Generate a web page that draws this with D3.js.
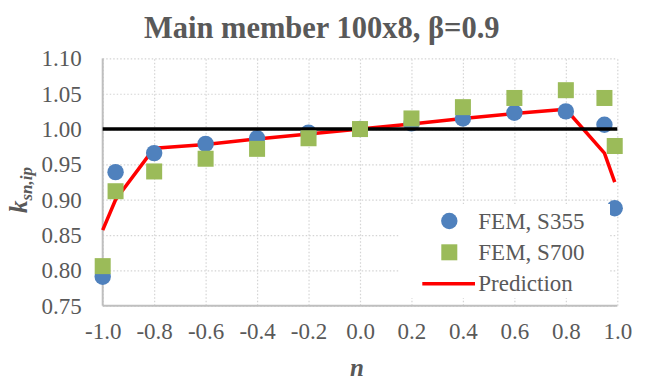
<!DOCTYPE html>
<html>
<head>
<meta charset="utf-8">
<script src="https://cdn.jsdelivr.net/npm/d3@7/dist/d3.min.js"></script>
<style>
  html, body { margin: 0; padding: 0; background: #fff; }
  svg { display: block; }
</style>
</head>
<body>
<svg id="chart" width="646" height="383"></svg>
<script>
// Axial load ratio n
const nS355 = [-1.0, -0.95, -0.8, -0.6, -0.4, -0.2, 0.0, 0.2, 0.4, 0.6, 0.8, 0.95, 0.99];
const kS355 = [0.791, 0.939, 0.966, 0.979, 0.987, 0.995, 1.000, 1.008, 1.015, 1.023, 1.025, 1.006, 0.888];

const nS700 = [-1.0, -0.95, -0.8, -0.6, -0.4, -0.2, 0.0, 0.2, 0.4, 0.6, 0.8, 0.95, 0.99];
const kS700 = [0.806, 0.912, 0.940, 0.958, 0.972, 0.987, 1.000, 1.015, 1.031, 1.044, 1.055, 1.044, 0.976];

const nPred = [-1.0, -0.95, -0.8, -0.6, -0.4, -0.2, 0.0, 0.2, 0.4, 0.6, 0.8, 0.95, 0.99];
const kPred = [0.857, 0.900, 0.973, 0.978, 0.986, 0.993, 1.000, 1.007, 1.015, 1.022, 1.028, 0.966, 0.925];

const refN = [-1.0, 1.0];
const refK = [1.0, 1.0];

const xTicks = [-1.0, -0.8, -0.6, -0.4, -0.2, 0.0, 0.2, 0.4, 0.6, 0.8, 1.0];
const yTicks = [0.75, 0.80, 0.85, 0.90, 0.95, 1.00, 1.05, 1.10];

const legendLabels = ["FEM, S355", "FEM, S700", "Prediction"];

const svg = d3.select("#chart");
const plotL = 102.7, plotR = 617.3, plotT = 58.4, plotB = 305.7;

const x = d3.scaleLinear().domain([-1, 1]).range([plotL, plotR]);
const y = d3.scaleLinear().domain([0.75, 1.10]).range([plotB, plotT]);

const textColor = "#595959";
const gridColor = "#d4d4d4";
const axisColor = "#bfbfbf";
const fontFam = "'Liberation Serif'";

// Gridlines (dotted)
svg.append("g")
  .attr("transform", `translate(0,${plotB})`)
  .call(d3.axisBottom(x).tickValues(xTicks).tickSize(-(plotB - plotT)).tickFormat(""))
  .call(g => g.select(".domain").remove())
  .call(g => g.selectAll("line").attr("stroke", gridColor).attr("stroke-width", 1.2).attr("stroke-dasharray", "1.5,2"));

svg.append("g")
  .attr("transform", `translate(${plotL},0)`)
  .call(d3.axisLeft(y).tickValues(yTicks).tickSize(-(plotR - plotL)).tickFormat(""))
  .call(g => g.select(".domain").remove())
  .call(g => g.selectAll("line").attr("stroke", gridColor).attr("stroke-width", 1.2).attr("stroke-dasharray", "1.5,2"));

// Tick labels
const xAxis = svg.append("g")
  .attr("transform", `translate(0,${plotB})`)
  .call(d3.axisBottom(x).tickValues(xTicks).tickSize(0).tickFormat(d3.format(".1f")));
xAxis.attr("font-family", null).attr("font-size", null);
xAxis.select(".domain").remove();
xAxis.selectAll("text")
  .attr("y", 33.5).attr("dy", null)
  .attr("fill", textColor)
  .style("font-size", "23px")
  .style("font-family", fontFam)
  .text(d => d3.format(".1f")(d).replace("−", "-"));

const yAxis = svg.append("g")
  .attr("transform", `translate(${plotL},0)`)
  .call(d3.axisLeft(y).tickValues(yTicks).tickSize(0).tickPadding(21).tickFormat(d3.format(".2f")));
yAxis.attr("font-family", null).attr("font-size", null);
yAxis.select(".domain").remove();
yAxis.selectAll("text")
  .attr("dy", "0.33em")
  .attr("fill", textColor)
  .style("font-size", "23px")
  .style("font-family", fontFam);

// Axis lines
svg.append("line").attr("x1", plotL).attr("x2", plotL).attr("y1", plotT).attr("y2", plotB)
  .attr("stroke", axisColor).attr("stroke-width", 2);
svg.append("line").attr("x1", plotL).attr("x2", plotR).attr("y1", plotB).attr("y2", plotB)
  .attr("stroke", axisColor).attr("stroke-width", 2);

// Prediction line
const line = d3.line().x(d => x(d[0])).y(d => y(d[1]));
svg.append("path")
  .datum(d3.zip(nPred, kPred))
  .attr("d", line)
  .attr("fill", "none")
  .attr("stroke", "#ff0000")
  .attr("stroke-width", 3.5)
  .attr("stroke-linejoin", "round");

// S355 circles
svg.append("g").selectAll("circle")
  .data(d3.zip(nS355, kS355))
  .join("circle")
  .attr("cx", d => x(d[0]))
  .attr("cy", d => y(d[1]))
  .attr("r", 8.2)
  .attr("fill", "#4f81bd");

// Reference line k = 1.0
svg.append("path")
  .datum(d3.zip(refN, refK))
  .attr("d", line)
  .attr("fill", "none")
  .attr("stroke", "#000")
  .attr("stroke-width", 3.5);

// S700 squares
const sq = 16;
svg.append("g").selectAll("rect")
  .data(d3.zip(nS700, kS700))
  .join("rect")
  .attr("x", d => x(d[0]) - sq / 2)
  .attr("y", d => y(d[1]) - sq / 2)
  .attr("width", sq)
  .attr("height", sq)
  .attr("fill", "#9bbb59");

// Legend
const lg = svg.append("g");
lg.append("rect").attr("x", 400).attr("y", 204).attr("width", 210).attr("height", 94).attr("fill", "#fff");
lg.append("circle").attr("cx", 449.3).attr("cy", 221).attr("r", 8.2).attr("fill", "#4f81bd");
lg.append("rect").attr("x", 449.3 - sq / 2).attr("y", 252.3 - sq / 2).attr("width", sq).attr("height", sq).attr("fill", "#9bbb59");
lg.append("line").attr("x1", 422.3).attr("x2", 475).attr("y1", 283.7).attr("y2", 283.7)
  .attr("stroke", "#ff0000").attr("stroke-width", 3.5);
lg.selectAll("text")
  .data(legendLabels)
  .join("text")
  .attr("x", 478.3)
  .attr("y", (d, i) => 228.5 + i * 31.3)
  .attr("fill", textColor)
  .style("font-family", fontFam)
  .style("font-size", "23px")
  .text(d => d);

// Title
svg.append("text")
  .attr("x", 321.7).attr("y", 37.5)
  .attr("text-anchor", "middle")
  .attr("fill", textColor)
  .style("font-family", fontFam)
  .style("font-size", "30.5px")
  .style("font-weight", "bold")
  .text("Main member 100x8, β=0.9");

// Axis titles
svg.append("text")
  .attr("x", 357).attr("y", 376)
  .attr("text-anchor", "middle")
  .attr("fill", textColor)
  .style("font-family", fontFam)
  .style("font-size", "25px")
  .style("font-weight", "bold")
  .style("font-style", "italic")
  .text("n");

const yl = svg.append("text")
  .attr("transform", "translate(27,190) rotate(-90)")
  .attr("text-anchor", "middle")
  .attr("fill", textColor)
  .style("font-family", fontFam)
  .style("font-weight", "bold")
  .style("font-style", "italic");
yl.append("tspan").style("font-size", "25px").text("k");
yl.append("tspan").style("font-size", "17px").attr("dy", 5).text("sn,ip");
</script>
</body>
</html>
